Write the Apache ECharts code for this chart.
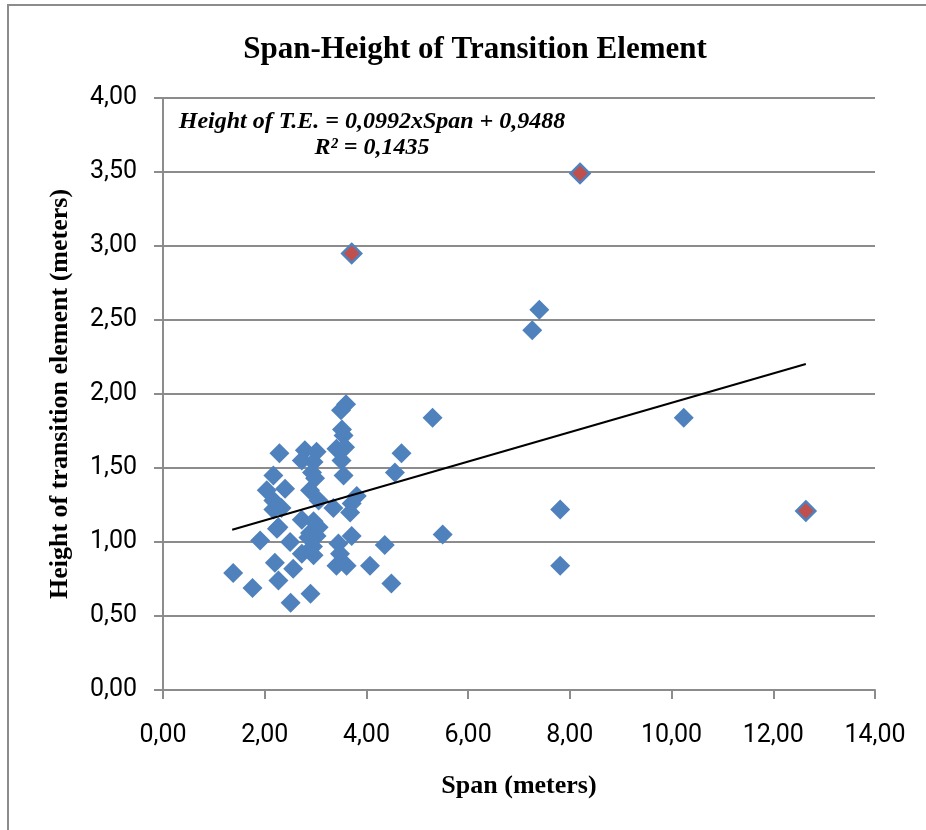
<!DOCTYPE html>
<html>
<head>
<meta charset="utf-8">
<script src="https://cdn.jsdelivr.net/npm/echarts@6/dist/echarts.min.js"></script>
<style>
html,body{margin:0;padding:0;background:#fff;}
#chart{width:926px;height:830px;}
</style>
</head>
<body>
<div id="chart"></div>
<script>
// Data: [span, height]
const spanHeightBlue = [
  [3.50,1.89],[3.60,1.93],[3.52,1.76],[3.55,1.72],
  [2.29,1.60],[2.79,1.62],[3.02,1.61],[2.73,1.55],[2.96,1.54],
  [3.41,1.63],[3.58,1.64],[3.51,1.55],[3.55,1.45],
  [4.69,1.60],[4.56,1.47],[2.17,1.45],[2.99,1.43],[2.93,1.47],
  [2.04,1.35],[2.40,1.36],[2.89,1.35],[2.17,1.28],[3.06,1.28],
  [3.81,1.31],[3.71,1.26],[3.35,1.23],[3.68,1.20],[2.17,1.22],
  [2.33,1.23],[2.27,1.10],[2.24,1.09],[2.73,1.15],[2.96,1.14],[3.06,1.10],
  [2.89,1.06],[3.02,1.04],[2.86,1.03],[2.95,0.97],[1.91,1.01],[2.50,1.00],
  [3.45,0.99],[3.71,1.04],[2.73,0.92],[2.96,0.91],[3.48,0.92],
  [4.36,0.98],[2.20,0.86],[2.56,0.82],[3.41,0.84],[3.61,0.84],
  [4.07,0.84],[1.38,0.79],[2.27,0.74],[4.49,0.72],[1.76,0.69],
  [2.51,0.59],[2.90,0.65],
  [5.30,1.84],[5.50,1.05],[7.26,2.43],[7.40,2.57],[7.81,1.22],[7.81,0.84],[10.24,1.84]
];
const spanHeightRed = [[3.71,2.95],[8.20,3.49],[12.64,1.21]];
// Linear trendline endpoints as drawn in the reference
const trendLine = [[1.36,1.083],[12.64,2.203]];
const trendLabel = ['Height of T.E. = 0,0992xSpan + 0,9488', 'R² = 0,1435'];
const chartTitle = 'Span-Height of Transition Element';
const xAxisName = 'Span (meters)';
const yAxisName = 'Height of transition element (meters)';

const fmt = v => v.toFixed(2).replace('.', ',');
const tickFont = "'Liberation Sans Narrow','Arial Narrow','Roboto',sans-serif";
const serif = "'Liberation Serif','Times New Roman',serif";
const gridColor = '#8c8c8c';

const chart = echarts.init(document.getElementById('chart'));
chart.setOption({
  animation: false,
  backgroundColor: '#fff',
  title: {
    text: chartTitle,
    left: 470, top: 29, textAlign: 'center',
    textStyle: {fontFamily: serif, fontWeight: 'bold', fontSize: 31, color: '#000'}
  },
  grid: {left: 163, right: 51, top: 98, bottom: 140},
  xAxis: {
    type: 'value', min: 0, max: 14, interval: 2,
    name: xAxisName, nameLocation: 'middle', nameGap: 83,
    nameTextStyle: {fontFamily: serif, fontWeight: 'bold', fontSize: 26, color: '#000'},
    axisLine: {show: true, lineStyle: {color: gridColor, width: 2}},
    axisTick: {show: true, length: 9, lineStyle: {color: gridColor, width: 2}},
    axisLabel: {formatter: fmt, margin: 33, fontFamily: tickFont, fontSize: 25, color: '#000'},
    splitLine: {show: false}
  },
  yAxis: {
    type: 'value', min: 0, max: 4, interval: 0.5,
    name: yAxisName, nameLocation: 'middle', nameGap: 90, nameRotate: 90,
    nameTextStyle: {fontFamily: serif, fontWeight: 'bold', fontSize: 26, color: '#000'},
    axisLine: {show: true, lineStyle: {color: gridColor, width: 2}},
    axisTick: {show: true, length: 9, lineStyle: {color: gridColor, width: 2}},
    axisLabel: {formatter: fmt, margin: 26, fontFamily: tickFont, fontSize: 25, color: '#000'},
    splitLine: {show: true, lineStyle: {color: gridColor, width: 2}}
  },
  graphic: [
    {type: 'rect', shape: {x: 8, y: 5, width: 960, height: 860},
     style: {fill: 'none', stroke: '#8c8c8c', lineWidth: 2}, silent: true, z: -1},
    {type: 'text', x: 372, y: 122, style: {text: trendLabel[0], fontFamily: serif, fontStyle: 'italic', fontWeight: 'bold', fontSize: 24, fill: '#000', align: 'center', verticalAlign: 'middle'}},
    {type: 'text', x: 372, y: 148, style: {text: trendLabel[1], fontFamily: serif, fontStyle: 'italic', fontWeight: 'bold', fontSize: 24, fill: '#000', align: 'center', verticalAlign: 'middle'}}
  ],
  series: [
    {
      type: 'line', data: trendLine, symbol: 'none', z: 3,
      lineStyle: {color: '#000', width: 2}
    },
    {
      type: 'scatter', data: spanHeightBlue, symbol: 'diamond', symbolSize: 20, z: 2,
      itemStyle: {color: '#4F81BD', opacity: 1}
    },
    {
      type: 'scatter', data: spanHeightRed, symbol: 'diamond', symbolSize: 19, z: 2,
      itemStyle: {color: '#C0504D', borderColor: '#4F81BD', borderWidth: 2.5, opacity: 1}
    }
  ]
});
</script>
</body>
</html>
